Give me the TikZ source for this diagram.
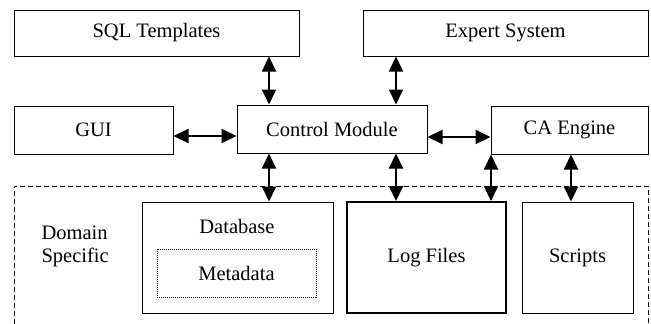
\documentclass[tikz,border=0pt]{standalone}
\usepackage{fontspec}
\setmainfont{Liberation Serif}
\usetikzlibrary{arrows.meta}
\tikzset{
  box/.style={draw, line width=1pt, rectangle, inner sep=0pt, align=center},
  arr/.style={line width=2pt, {Triangle[length=15pt,width=14pt]}-{Triangle[length=15pt,width=14pt]}},
  frame/.style={line width=1pt, dash pattern=on 5pt off 3pt},
}
\begin{document}
\begin{tikzpicture}[x=1pt,y=-1pt,font=\fontsize{20.5}{23}\selectfont]
\useasboundingbox (0,0) rectangle (651,324);

% upper row
\node[box, minimum width=285pt, minimum height=46pt] (sql) at (156.5,33) {SQL Templates};
\node[box, minimum width=285pt, minimum height=46pt] (exp) at (505.5,33) {Expert System};

% middle row
\node[box, minimum width=159pt, minimum height=48pt] (gui) at (93.5,130) {GUI};
\node[box, minimum width=190pt, minimum height=48pt] (ctrl) at (332,129) {Control Module};
\node[box, minimum width=157pt, minimum height=48pt] (ca) at (569.5,130) {CA Engine};

% domain specific area
\draw[frame] (14,324) -- (14,186) -- (648,186) -- (648,324);
\node[align=left, anchor=west] (dom) at (38,246) {Domain\\Specific};

\node[box, minimum width=191pt, minimum height=111pt] (db) at (237.5,257.5) {};
\node (dbl) at (237,226) {Database};
\node[draw, line width=1pt, densely dotted, minimum width=159pt, minimum height=48pt, inner sep=0pt] (meta) at (236.5,273) {Metadata};
\node[box, line width=2pt, minimum width=159pt, minimum height=111pt] (log) at (426.5,257.5) {Log Files};
\node[box, minimum width=111pt, minimum height=111pt] (scr) at (577.5,257.5) {Scripts};

% connector columns and rows
\coordinate (c1) at (269,0);
\coordinate (c2) at (396,0);
\coordinate (c3) at (491,0);
\coordinate (c4) at (571,0);
\coordinate (r1) at (0,136);
\coordinate (r2) at (0,137);

\draw[arr] (sql.south -| c1) -- (ctrl.north -| c1);
\draw[arr] (exp.south -| c2) -- (ctrl.north -| c2);
\draw[arr] (gui.east |- r1) -- (ctrl.west |- r1);
\draw[arr] (ctrl.east |- r2) -- (ca.west |- r2);
\draw[arr] (ctrl.south -| c1) -- (db.north -| c1);
\draw[arr] (ctrl.south -| c2) -- (log.north -| c2);
\draw[arr] (ca.south -| c3) -- (log.north -| c3);
\draw[arr] (ca.south -| c4) -- (scr.north -| c4);
\end{tikzpicture}
\end{document}
